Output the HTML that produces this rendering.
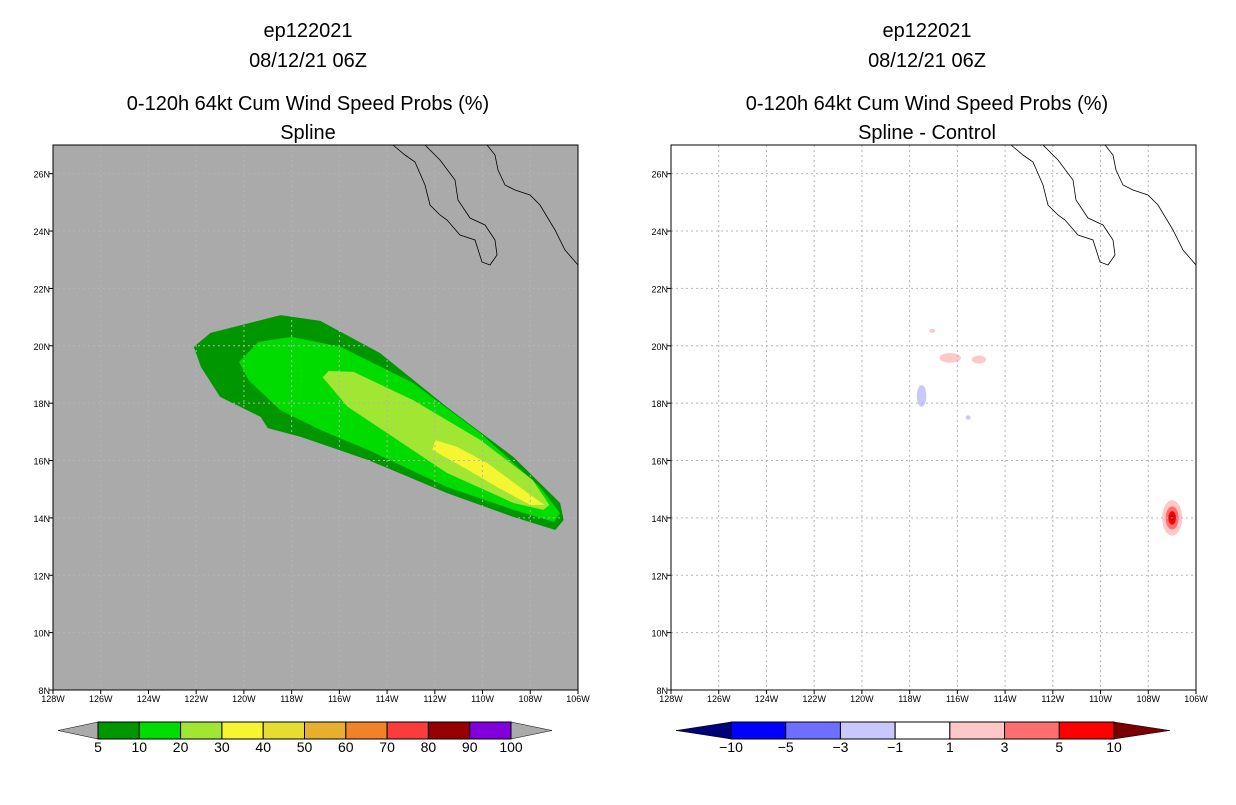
<!DOCTYPE html>
<html><head><meta charset="utf-8"><style>
body{margin:0;background:#fff;width:1236px;height:800px;overflow:hidden;font-family:"Liberation Sans",sans-serif}
</style></head><body>
<svg id="s" width="1236" height="800" xmlns="http://www.w3.org/2000/svg"></svg>
<script>
const lonTicks=[-128,-126,-124,-122,-120,-118,-116,-114,-112,-110,-108,-106];
const latTicks=[8,10,12,14,16,18,20,22,24,26];
const probLevels=["5","10","20","30","40","50","60","70","80","90","100"];
const probColors=["#009600","#00dc00","#a0e632","#f5f532","#e6dc32","#e6af2d","#f08228","#fa3c3c","#960000","#8200dc"];
const diffLevels=["-10","-5","-3","-1","1","3","5","10"];
const diffColors=["#0000ff","#6e6eff","#c8c8ff","#ffffff","#ffc8c8","#ff6e6e","#ff0000"];
const prob5=[[-122.1,19.96],[-121.4,20.45],[-118.46,21.07],[-116.8,20.87],[-114.3,19.75],[-111.5,17.87],[-108.7,16.12],[-106.75,14.52],[-106.6,13.93],[-106.95,13.58],[-108.7,14.03],[-111.5,14.87],[-114.8,16.02],[-117.6,16.82],[-119.0,17.13],[-119.3,17.52],[-121.0,18.22],[-121.8,19.26]];
const prob10=[[-120.2,19.44],[-119.4,20.13],[-118.0,20.31],[-115.95,19.96],[-112.9,18.7],[-110.1,16.96],[-107.6,15.08],[-106.75,14.17],[-107.0,13.86],[-108.7,14.28],[-111.5,15.08],[-114.8,16.37],[-116.8,17.07],[-118.5,17.77],[-119.8,18.8]];
const prob20=[[-116.7,18.9],[-116.45,19.12],[-115.4,19.09],[-112.9,18.1],[-110.1,16.72],[-107.9,15.32],[-107.2,14.45],[-107.45,14.28],[-108.7,14.52],[-111.5,15.57],[-114.0,16.96],[-115.65,17.87]];
const prob30=[[-112.0,16.72],[-111.05,16.47],[-109.8,15.91],[-108.1,14.87],[-107.4,14.45],[-108.0,14.45],[-109.4,15.08],[-110.6,15.67],[-112.1,16.37]];
const diffLon=[-116.3,-115.1,-117.05,-117.5,-115.55,-107.0];
const diffLat=[19.58,19.52,20.52,18.25,17.5,14.0];
const diffVal=[2,2,2,-2,-2,12];
const diffRx=[0.45,0.3,0.12,0.2,0.1,0.42];
const diffRy=[0.17,0.14,0.07,0.38,0.08,0.62];
const baja=[[393,145],[405,155],[415,162],[425,185],[430,205],[440,215],[447,220],[460,235],[475,240],[482,262],[490,265],[497,255],[495,240],[485,225],[470,218],[458,200],[455,180],[440,160],[430,150],[425,145]];
const mainland=[[487,145],[495,155],[498,170],[505,185],[515,190],[530,195],[540,205],[555,230],[565,250],[578,265]];
const S=document.getElementById('s');const NS='http://www.w3.org/2000/svg';
function el(t,a,p){const e=document.createElementNS(NS,t);for(const k in a)e.setAttribute(k,a[k]);(p||S).appendChild(e);return e;}
const T=145,B=690,W=525;
function mk(x0){return {x:lon=>x0+(lon+128)/22*W,y:lat=>B-(lat-8)/19*(B-T)};}
const L=mk(53),R=mk(671);
function titles(cx,sub,nm){
 [["ep122021",37],["08/12/21 06Z",67],["0-120h 64kt Cum Wind Speed Probs (%)",110],[sub,139]].forEach((t,i)=>{
  const e=el('text',{x:cx,y:t[1],'text-anchor':'middle','font-size':20,'font-family':'Liberation Sans, sans-serif',fill:'#000'});e.textContent=t[0];
  
  });
}
function poly(ax,pts,fill,name){const e=el('polygon',{points:pts.map(p=>ax.x(p[0])+','+ax.y(p[1])).join(' '),fill:fill});
 }
function frame(ax,x0,bg,nm){
 const g=el('g',{});
 el('rect',{x:x0,y:T,width:W,height:B-T,fill:bg},g);
 return g;}
function grid(ax,x0,g){
 lonTicks.slice(1,-1).forEach(l=>el('line',{x1:ax.x(l),x2:ax.x(l),y1:T,y2:B,stroke:'#b4b4b4','stroke-dasharray':'2,3'},g));
 latTicks.slice(1).forEach(l=>el('line',{x1:x0,x2:x0+W,y1:ax.y(l),y2:ax.y(l),stroke:'#b4b4b4','stroke-dasharray':'2,3'},g));
 const c=(pts)=>{const e=el('polyline',{points:pts.map(p=>(p[0]-53+x0)+','+p[1]).join(' '),fill:'none',stroke:'#000','stroke-width':0.8},g);};
 c(baja);c(mainland);
 el('rect',{x:x0,y:T,width:W,height:B-T,fill:'none',stroke:'#000','stroke-width':1},g);
 lonTicks.forEach(l=>{el('line',{x1:ax.x(l),x2:ax.x(l),y1:B,y2:B+4,stroke:'#000'},g);
  const t=el('text',{x:ax.x(l),y:B+12,'text-anchor':'middle','font-size':9,fill:'#000'},g);t.textContent=Math.abs(l)+'W';
  });
 latTicks.forEach(l=>{el('line',{x1:x0-4,x2:x0,y1:ax.y(l),y2:ax.y(l),stroke:'#000'},g);
  const t=el('text',{x:x0-3,y:ax.y(l)+4,'text-anchor':'end','font-size':9,fill:'#000'},g);t.textContent=l+'N';
  });
}
titles(308,'Spline','left');titles(927,'Spline - Control','right');
const gl=frame(L,53,'#aaaaaa','left-map');
poly(L,prob5,probColors[0],'prob-5-contour');poly(L,prob10,probColors[1],'prob-10-contour');
poly(L,prob20,probColors[2],'prob-20-contour');poly(L,prob30,probColors[3],'prob-30-contour');
const gL2=el('g',{});grid(L,53,gL2);
const gr=frame(R,671,'#ffffff','right-map');
const kx=W/22,ky=(B-T)/19;
diffLon.forEach((lo,i)=>{const v=diffVal[i];const big=Math.abs(v)>5;
 const col=v>0?diffColors[4]:diffColors[2];
 const cx=R.x(lo),cy=R.y(diffLat[i]);
 const e=el('ellipse',{cx:cx,cy:cy,rx:diffRx[i]*kx,ry:diffRy[i]*ky,fill:col});
 
 if(big){el('ellipse',{cx:cx,cy:cy,rx:diffRx[i]*kx*0.65,ry:diffRy[i]*ky*0.65,fill:diffColors[5]});
  el('ellipse',{cx:cx,cy:cy,rx:diffRx[i]*kx*0.38,ry:diffRy[i]*ky*0.38,fill:diffColors[6]});
  el('ellipse',{cx:cx,cy:cy,rx:diffRx[i]*kx*0.14,ry:diffRy[i]*ky*0.14,fill:'#960000'});}
});
const gR2=el('g',{});grid(R,671,gR2);
function cbar(tipL,x0,x1,tipR,cols,labs,lc,rc,nm){
 const g=el('g',{});
 const y0=722,y1=739,ym=730.5,w=(x1-x0)/cols.length;
 el('polygon',{points:`${tipL},${ym} ${x0},${y0} ${x0},${y1}`,fill:lc,stroke:'#000','stroke-width':0.5},g);
 el('polygon',{points:`${tipR},${ym} ${x1},${y0} ${x1},${y1}`,fill:rc,stroke:'#000','stroke-width':0.5},g);
 cols.forEach((c,i)=>el('rect',{x:x0+i*w,y:y0,width:w,height:y1-y0,fill:c,stroke:'#000','stroke-width':1},g));
 labs.forEach((l,i)=>{const t=el('text',{x:x0+i*w,y:752,'text-anchor':'middle','font-size':14,fill:'#000'},g);t.textContent=l.replace('-','\u2212');
  });
}
cbar(58,98,511,552,probColors,probLevels,'#aaaaaa','#aaaaaa','left-colorbar');
cbar(676,731,1114,1170,diffColors,diffLevels,'#000078','#780000','right-colorbar');
</script>
</body></html>
